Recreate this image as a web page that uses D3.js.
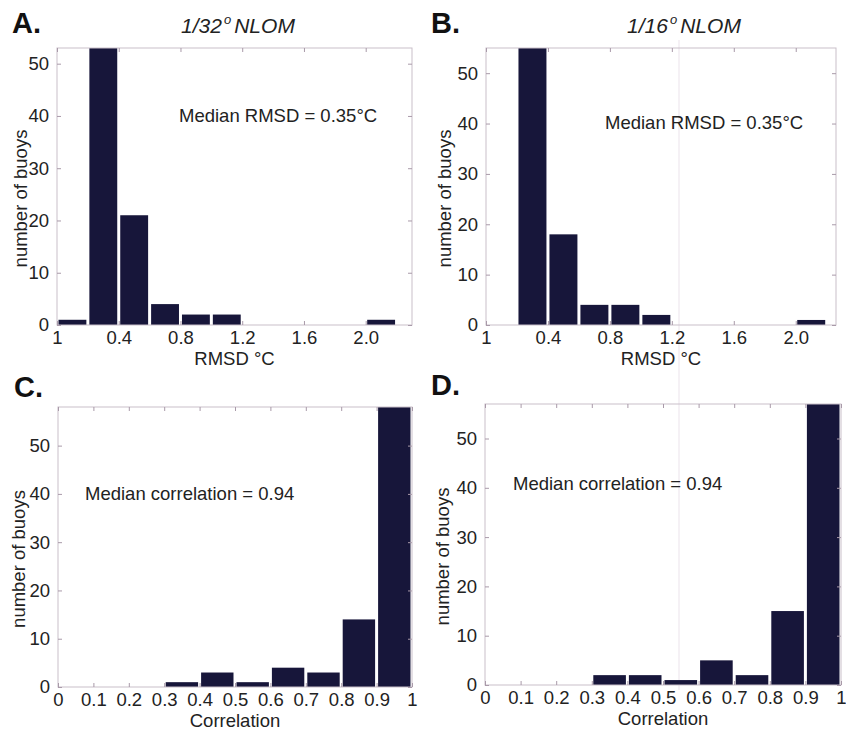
<!DOCTYPE html>
<html>
<head>
<meta charset="utf-8">
<script src="https://cdn.jsdelivr.net/npm/d3@7"></script>
<style>
  html, body { margin: 0; padding: 0; background: #fff; }
  svg { display: block; font-family: "Liberation Sans", Arial, Helvetica, sans-serif; }
</style>
</head>
<body>
<svg id="chart" width="846" height="731"></svg>
<script>
// ---------------- data ----------------
const rmsdBinEdges = [0, 0.2, 0.4, 0.6, 0.8, 1.0, 1.2, 1.4, 1.6, 1.8, 2.0, 2.2];
const countsA = [1, 53, 21, 4, 2, 2, 0, 0, 0, 0, 1];   // 1/32° NLOM RMSD
const countsB = [0, 55, 18, 4, 4, 2, 0, 0, 0, 0, 1];   // 1/16° NLOM RMSD
const corrBinEdges = [0, 0.1, 0.2, 0.3, 0.4, 0.5, 0.6, 0.7, 0.8, 0.9, 1.0];
const countsC = [0, 0, 0, 1, 3, 1, 4, 3, 14, 58];       // 1/32° correlation
const countsD = [0, 0, 0, 2, 2, 1, 5, 2, 15, 57];       // 1/16° correlation

const rmsdTickValues = [0, 0.4, 0.8, 1.2, 1.6, 2.0];
const rmsdTickLabels = ["1", "0.4", "0.8", "1.2", "1.6", "2.0"];
const corrTickValues = [0, 0.1, 0.2, 0.3, 0.4, 0.5, 0.6, 0.7, 0.8, 0.9, 1.0];
const corrTickLabels = ["0", "0.1", "0.2", "0.3", "0.4", "0.5", "0.6", "0.7", "0.8", "0.9", "1"];
const yTickValues = [0, 10, 20, 30, 40, 50];

const panelLetters = ["A.", "B.", "C.", "D."];
const panelTitles = ["1/32", "1/16", "", ""];
const annotations = ["Median RMSD = 0.35°C", "Median RMSD = 0.35°C",
                     "Median correlation = 0.94", "Median correlation = 0.94"];
const xLabels = ["RMSD °C", "RMSD °C", "Correlation", "Correlation"];

// ---------------- layout ----------------
const panels = [
  { counts: countsA, edges: rmsdBinEdges, xDomain: [0, 2.3], yMax: 53,
    ticks: rmsdTickValues, labels: rmsdTickLabels,
    box: { l: 57, r: 412, t: 48, b: 325 }, letter: [12, 33], title: [238, 33],
    ann: [179, 122], ylab: 22 },
  { counts: countsB, edges: rmsdBinEdges, xDomain: [0, 2.26], yMax: 55,
    ticks: rmsdTickValues, labels: rmsdTickLabels,
    box: { l: 486, r: 836, t: 48, b: 325 }, letter: [431, 33], title: [684, 33],
    ann: [605, 129], ylab: 446 },
  { counts: countsC, edges: corrBinEdges, xDomain: [0, 1], yMax: 58,
    ticks: corrTickValues, labels: corrTickLabels,
    box: { l: 58, r: 412, t: 407, b: 687 }, letter: [14, 397], title: null,
    ann: [85, 500], ylab: 20 },
  { counts: countsD, edges: corrBinEdges, xDomain: [0, 1], yMax: 57,
    ticks: corrTickValues, labels: corrTickLabels,
    box: { l: 485, r: 841, t: 404, b: 685 }, letter: [431, 395], title: null,
    ann: [513, 490], ylab: 444 }
];

const svg = d3.select("#chart");
const barColor = "#17163a";
const frameColor = "#c9bfc9";
const textColor = "#222";
const fs = 18.5;

// faint scan crease
svg.append("line").attr("x1", 679).attr("x2", 679).attr("y1", 40).attr("y2", 690)
  .attr("stroke", "#eee8ee").attr("stroke-width", 1.2);

panels.forEach((p, i) => {
  const b = p.box;
  const x = d3.scaleLinear().domain(p.xDomain).range([b.l, b.r]);
  const y = d3.scaleLinear().domain([0, p.yMax]).range([b.b, b.t]);
  const g = svg.append("g");

  // bars
  const bins = p.counts.map((c, k) => ({ x0: p.edges[k], x1: p.edges[k + 1], c }))
    .filter(d => d.c > 0);
  g.selectAll("rect.bar").data(bins).join("rect")
    .attr("class", "bar")
    .attr("x", d => x(d.x0) + 1.5)
    .attr("width", d => x(d.x1) - x(d.x0) - 3)
    .attr("y", d => y(d.c))
    .attr("height", d => y(0) - y(d.c))
    .attr("fill", barColor);

  // frame
  g.append("rect").attr("x", b.l).attr("y", b.t)
    .attr("width", b.r - b.l).attr("height", b.b - b.t)
    .attr("fill", "none").attr("stroke", frameColor).attr("stroke-width", 1);

  // axes
  const fmtX = (d) => p.labels[p.ticks.indexOf(d)];
  const bottom = g.append("g").attr("transform", `translate(0,${b.b})`)
    .call(d3.axisBottom(x).tickValues(p.ticks).tickFormat(fmtX).tickSizeInner(-4).tickSizeOuter(0).tickPadding(6));
  const top = g.append("g").attr("transform", `translate(0,${b.t})`)
    .call(d3.axisTop(x).tickValues(p.ticks).tickFormat("").tickSizeInner(-4).tickSizeOuter(0));
  const left = g.append("g").attr("transform", `translate(${b.l},0)`)
    .call(d3.axisLeft(y).tickValues(yTickValues).tickSizeInner(-4).tickSizeOuter(0).tickPadding(8));
  const right = g.append("g").attr("transform", `translate(${b.r},0)`)
    .call(d3.axisRight(y).tickValues(yTickValues).tickFormat("").tickSizeInner(-4).tickSizeOuter(0));
  [bottom, top, left, right].forEach(a => {
    a.select(".domain").remove();
    a.selectAll(".tick line").attr("stroke", "#a99aa9");
    a.selectAll("text").attr("font-size", fs).attr("fill", textColor)
      .attr("font-family", "'Liberation Sans', Arial, sans-serif");
  });

  // y label
  g.append("text")
    .attr("transform", `translate(${p.ylab},${(b.t + b.b) / 2 + 12}) rotate(-90)`)
    .attr("text-anchor", "middle").attr("dominant-baseline", "middle")
    .attr("font-size", fs).attr("fill", textColor).text("number of buoys");

  // x label
  g.append("text").attr("x", (b.l + b.r) / 2).attr("y", b.b + 40)
    .attr("text-anchor", "middle").attr("font-size", fs).attr("fill", textColor)
    .text(xLabels[i]);

  // annotation
  g.append("text").attr("x", p.ann[0]).attr("y", p.ann[1])
    .attr("font-size", fs).attr("fill", textColor).text(annotations[i]);

  // panel letter
  g.append("text").attr("x", p.letter[0]).attr("y", p.letter[1])
    .attr("font-size", 29).attr("font-weight", "bold").attr("fill", "#111")
    .text(panelLetters[i]);

  // title
  if (p.title) {
    const t = g.append("text").attr("x", p.title[0]).attr("y", p.title[1])
      .attr("text-anchor", "middle").attr("font-size", 21).attr("font-style", "italic")
      .attr("fill", textColor);
    t.append("tspan").text(panelTitles[i]);
    t.append("tspan").attr("font-size", 13).attr("dy", -9).attr("dx", 2).text("o");
    t.append("tspan").attr("dy", 9).attr("dx", 3).text("NLOM");
  }
});
</script>
</body>
</html>
